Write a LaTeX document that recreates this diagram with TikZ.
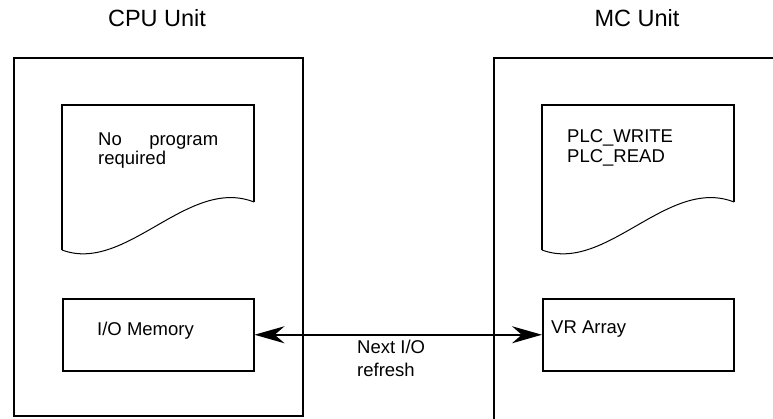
\documentclass[tikz,border=0pt]{standalone}
\usepackage{fontspec}
\setmainfont{Liberation Sans}
\usetikzlibrary{arrows.meta}
\begin{document}
\begin{tikzpicture}[x=1pt,y=-1pt,
  outerbox/.style={draw, line width=2pt, rectangle, anchor=north west, inner sep=0pt, minimum width=289pt},
  innerbox/.style={draw, line width=1.5pt, rectangle, minimum width=191pt, minimum height=72pt, anchor=north west, inner sep=0pt},
  docline/.style={line width=1.5pt},
  waveline/.style={line width=1pt},
  lbl/.style={anchor=base west, inner sep=0pt, font=\fontsize{18.5}{20}\selectfont},
  ttl/.style={anchor=base, inner sep=0pt, font=\fontsize{23.5}{26}\selectfont},
  link/.style={line width=2pt, {Stealth[length=30pt,width=17pt]}-{Stealth[length=30pt,width=17pt]}}
]
\useasboundingbox (0,0) rectangle (773,418);
\clip (0,0) rectangle (773,418);

% titles
\node[ttl] (tcpu) at (157,26) {CPU Unit};
\node[ttl] (tmc) at (637,26) {MC Unit};

% outer unit boxes
\node[outerbox, minimum height=358pt] (cpu) at (13,57) {};
\node[outerbox, minimum height=380pt] (mc) at (493,57) {};

% document shapes
\foreach \dx in {0,480}{
  \begin{scope}[xshift=\dx pt]
    \draw[docline] (62,250) -- (62,105) -- (254,105) -- (254,202);
    \draw[waveline] (62,250) .. controls (126,274) and (188,176) .. (254,202);
  \end{scope}
}

\node[lbl] (np) at (98,145) {\makebox[120pt][l]{No\hfill program}};
\node[lbl] (rq) at (98,164) {required};
\node[lbl] (pw) at (567,142) {PLC\_WRITE};
\node[lbl] (pr) at (567,162) {PLC\_READ};

% memory boxes
\node[innerbox] (io) at (62,298) {};
\node[innerbox] (vr) at (542,298) {};
\node[lbl] (iot) at (97,335) {I/O Memory};
\node[lbl] (vrt) at (551,333) {VR Array};

% connector
\draw[link] (io.east) -- (vr.west);
\node[lbl] (nx) at (357,353) {Next I/O};
\node[lbl] (rf) at (357,376) {refresh};
\end{tikzpicture}
\end{document}
